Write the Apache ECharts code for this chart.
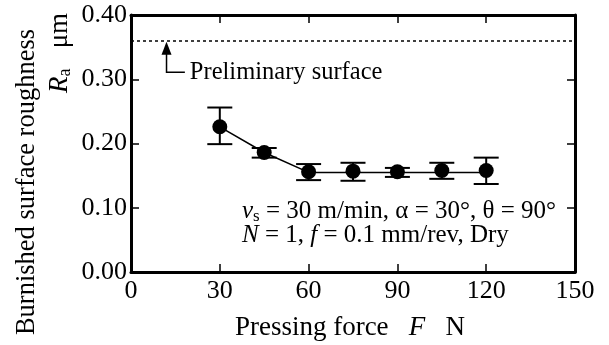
<!DOCTYPE html>
<html><head><meta charset="utf-8">
<script src="https://cdn.jsdelivr.net/npm/echarts@6/dist/echarts.min.js"></script>
<style>html,body{margin:0;padding:0;background:#fff}#c{width:609px;height:345px}</style>
</head><body><div id="c"></div>
<script>
const forces = [30, 45, 60, 75, 90, 105, 120];
const roughness = [0.226, 0.186, 0.156, 0.157, 0.156, 0.158, 0.158];
const errUpper = [0.256, 0.193, 0.168, 0.170, 0.162, 0.170, 0.178];
const errLower = [0.199, 0.178, 0.143, 0.142, 0.148, 0.145, 0.137];
const trendX = [30, 45, 60, 120];
const trendY = [0.226, 0.186, 0.155, 0.155];
const preliminary = 0.36;
const xTicks = [0, 30, 60, 90, 120, 150];
const yTicks = [0, 0.1, 0.2, 0.3, 0.4];
const arrowX = 12, arrowBottom = 0.311, elbowX = 18.2;

const FONT = 'Liberation Serif';
const chart = echarts.init(document.getElementById('c'));
const axisLine = {show: true, onZero: false, lineStyle: {color: '#000', width: 3}};
const ticks = {show: true, inside: true, length: 8, lineStyle: {color: '#000', width: 1.5}};
chart.setOption({
  animation: false,
  textStyle: {fontFamily: FONT},
  grid: {left: 131, right: 34, top: 15, bottom: 73, containLabel: false},
  xAxis: [
    {type: 'value', min: xTicks[0], max: xTicks[xTicks.length-1], interval: 30,
     axisLine: axisLine, axisTick: ticks, splitLine: {show: false},
     axisLabel: {fontFamily: FONT, fontSize: 26, color: '#000', margin: 6}},
    {type: 'value', position: 'top', min: 0, max: 150, interval: 30,
     axisLine: axisLine, axisTick: ticks, splitLine: {show: false}, axisLabel: {show: false}}
  ],
  yAxis: [
    {type: 'value', min: yTicks[0], max: yTicks[yTicks.length-1], interval: 0.1,
     axisLine: axisLine, axisTick: ticks, splitLine: {show: false},
     axisLabel: {fontFamily: FONT, fontSize: 26, color: '#000', margin: 4,
       formatter: v => v.toFixed(2)}},
    {type: 'value', position: 'right', min: 0, max: 0.4, interval: 0.1,
     axisLine: axisLine, axisTick: ticks, splitLine: {show: false}, axisLabel: {show: false}}
  ],
  series: [
    {type: 'line', data: trendX.map((x, i) => [x, trendY[i]]), symbol: 'none',
     lineStyle: {color: '#000', width: 1.5}, z: 2,
     markLine: {silent: true, symbol: 'none', label: {show: false},
       lineStyle: {color: '#000', type: [3, 3], width: 1.5},
       data: [{yAxis: preliminary}]}},
    {type: 'custom', z: 3,
     data: forces.map((x, i) => [x, errLower[i], errUpper[i]]),
     renderItem: (params, api) => {
       const x = api.value(0);
       const lo = api.coord([x, api.value(1)]);
       const hi = api.coord([x, api.value(2)]);
       const hw = 12.5;
       const st = {stroke: '#000', lineWidth: 2};
       return {type: 'group', children: [
         {type: 'line', shape: {x1: lo[0], y1: lo[1], x2: hi[0], y2: hi[1]}, style: st},
         {type: 'line', shape: {x1: lo[0]-hw, y1: lo[1], x2: lo[0]+hw, y2: lo[1]}, style: st},
         {type: 'line', shape: {x1: hi[0]-hw, y1: hi[1], x2: hi[0]+hw, y2: hi[1]}, style: st}
       ]};
     }},
    {type: 'scatter', data: forces.map((x, i) => [x, roughness[i]]), symbol: 'circle',
     symbolSize: 15, itemStyle: {color: '#000', opacity: 1}, z: 4},
    {type: 'custom', z: 5, data: [[arrowX, preliminary, arrowBottom, elbowX]],
     renderItem: (params, api) => {
       const top = api.coord([api.value(0), api.value(1)]);
       const bot = api.coord([api.value(0), api.value(2)]);
       const elb = api.coord([api.value(3), api.value(2)]);
       return {type: 'group', children: [
         {type: 'polyline', shape: {points: [[top[0], top[1]+12], bot, elb]},
          style: {stroke: '#000', lineWidth: 1.5, fill: null}},
         {type: 'polygon', shape: {points: [[top[0], top[1]+1], [top[0]-5, top[1]+14], [top[0]+5, top[1]+14]]},
          style: {fill: '#000'}},
         {type: 'text', style: {x: elb[0]+5, y: elb[1], text: 'Preliminary surface',
          fontFamily: FONT, fontSize: 24.5, fill: '#000', verticalAlign: 'middle', align: 'left'}}
       ]};
     }}
  ],
  graphic: [
    {type: 'text', x: 350, y: 328, style: {
      text: 'Pressing force   {i|F}   N', fontFamily: FONT, fontSize: 27, fill: '#000',
      align: 'center', verticalAlign: 'middle',
      rich: {i: {fontStyle: 'italic', fontFamily: FONT, fontSize: 27}}}},
    {type: 'text', x: 27, y: 182, rotation: Math.PI/2, style: {
      text: 'Burnished surface roughness', fontFamily: FONT, fontSize: 26.5, fill: '#000',
      align: 'center', verticalAlign: 'middle'}},
    {type: 'text', x: 60, y: 53, rotation: Math.PI/2, style: {
      text: '{i|R}{s|a}   μm', fontFamily: FONT, fontSize: 27, fill: '#000',
      align: 'center', verticalAlign: 'middle',
      rich: {i: {fontStyle: 'italic', fontFamily: FONT, fontSize: 27},
             s: {fontFamily: FONT, fontSize: 18, padding: [10, 0, 0, 0]}}}},
    {type: 'text', x: 242, y: 211, style: {
      text: '{i|v}{s|s} = 30 m/min, α = 30°, θ = 90°', fontFamily: FONT, fontSize: 25, fill: '#000',
      align: 'left', verticalAlign: 'middle',
      rich: {i: {fontStyle: 'italic', fontFamily: FONT, fontSize: 25},
             s: {fontFamily: FONT, fontSize: 17, padding: [12, 0, 0, 0]}}}},
    {type: 'text', x: 242, y: 235, style: {
      text: '{i|N} = 1, {i|f} = 0.1 mm/rev, Dry', fontFamily: FONT, fontSize: 25, fill: '#000',
      align: 'left', verticalAlign: 'middle',
      rich: {i: {fontStyle: 'italic', fontFamily: FONT, fontSize: 25}}}}
  ]
});
</script></body></html>
